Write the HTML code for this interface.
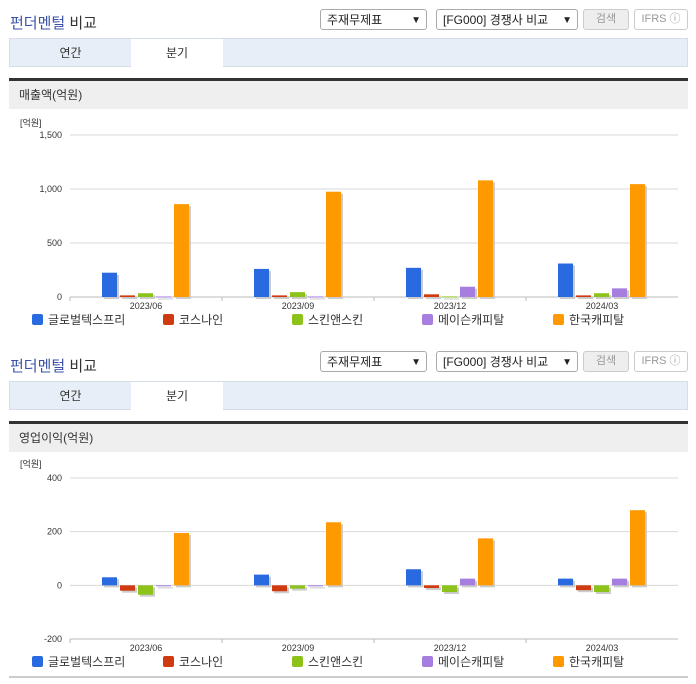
<!DOCTYPE html>
<html><head><meta charset="utf-8">
<style>
body{margin:0;width:696px;height:684px;background:#fff;font-family:"Liberation Sans","Noto Sans CJK KR",sans-serif;position:relative;overflow:hidden}
.abs{position:absolute}
.title{font-size:15px;color:#333;font-weight:normal}
.title b{color:#3a52a8;font-weight:normal}
.sel{height:21px;border:1px solid #aaa;border-radius:3px;font-size:12px;line-height:21px;padding-left:6px;box-sizing:border-box;color:#222;background:#fff}
.sel span{position:absolute;right:5px;font-size:10px}
.btn{height:21px;border:1px solid #ccc;border-radius:3px;font-size:11px;line-height:19px;text-align:center;box-sizing:border-box;color:#999}
.tabs{left:9px;width:679px;height:29px;background:#e8eef7;border:1px solid #d5dde8;box-sizing:border-box}
.tab{top:0;height:28px;font-size:12px;line-height:28px;text-align:center;color:#333}
.hdr{left:9px;width:679px;height:31px;background:#efefef;border-top:3px solid #333;font-size:12px;line-height:28px;padding-left:10px;box-sizing:border-box;color:#333}
svg text{font-family:"Liberation Sans","Noto Sans CJK KR",sans-serif}
</style></head><body>
<div>
<div class="abs title" style="left:10px;top:12px"><b>펀더멘털</b> 비교</div>
<div class="abs sel" style="left:320px;top:9px;width:107px">주재무제표<span>▼</span></div>
<div class="abs sel" style="left:436px;top:9px;width:142px">[FG000] 경쟁사 비교<span>▼</span></div>
<div class="abs btn" style="left:583px;top:9px;width:46px;background:#eee">검색</div>
<div class="abs btn" style="left:634px;top:9px;width:54px">IFRS ⓘ</div>
<div class="abs tabs" style="top:38px">
<div class="abs tab" style="left:0;width:121px">연간</div>
<div class="abs tab" style="left:121px;width:92px;background:#fff;height:29px">분기</div></div>
<div class="abs hdr" style="top:78px">매출액(억원)</div>
</div>
<div>
<div class="abs title" style="left:10px;top:355px"><b>펀더멘털</b> 비교</div>
<div class="abs sel" style="left:320px;top:351px;width:107px">주재무제표<span>▼</span></div>
<div class="abs sel" style="left:436px;top:351px;width:142px">[FG000] 경쟁사 비교<span>▼</span></div>
<div class="abs btn" style="left:583px;top:351px;width:46px;background:#eee">검색</div>
<div class="abs btn" style="left:634px;top:351px;width:54px">IFRS ⓘ</div>
<div class="abs tabs" style="top:381px">
<div class="abs tab" style="left:0;width:121px">연간</div>
<div class="abs tab" style="left:121px;width:92px;background:#fff;height:29px">분기</div></div>
<div class="abs hdr" style="top:421px">영업이익(억원)</div>
<div class="abs" style="left:9px;top:676px;width:679px;height:2px;background:#ccc"></div>
</div>
<svg class="abs" style="left:0;top:0" width="696" height="684" id="svg"></svg>
<script>
const categories=["2023/06","2023/09","2023/12","2024/03"];
const seriesNames=["글로벌텍스프리","코스나인","스킨앤스킨","메이슨캐피탈","한국캐피탈"];
const colors=["#2a6ae0","#d03a10","#8cc21a","#a57ee0","#ff9900"];
const salesBlue=[225,260,270,310];
const salesRed=[15,15,25,15];
const salesGreen=[35,45,5,35];
const salesPurple=[5,5,95,80];
const salesOrange=[860,975,1080,1045];
const salesTicks=[0,500,1000,1500];
const salesTickLabels=["0","500","1,000","1,500"];
const opBlue=[30,40,60,25];
const opRed=[-20,-22,-10,-18];
const opGreen=[-35,-12,-25,-25];
const opPurple=[-3,0,25,25];
const opOrange=[195,235,175,280];
const opTicks=[-200,0,200,400];
const opTickLabels=["-200","0","200","400"];
const NS="http://www.w3.org/2000/svg";
const svg=document.getElementById('svg');
function mk(t,a,p){const e=document.createElementNS(NS,t);for(const k in a)e.setAttribute(k,a[k]);(p||svg).appendChild(e);return e;}
function chart(name,series,ticks,labels,min,max,top,bottom,unitY,legendY){
  const g=mk('g',{});
  
  
  const x0=70,x1=678,cw=(x1-x0)/categories.length;
  const y=v=>bottom-(v-min)/(max-min)*(bottom-top);
  const u=mk('text',{x:20,y:unitY,'font-size':9,fill:'#333'},g);u.textContent='[억원]';
  
  
  ticks.forEach((t,i)=>{
    const l=mk('line',{x1:x0,x2:x1,y1:y(t),y2:y(t),stroke:'#d8d8d8'},g);
    
    
    const tx=mk('text',{x:62,y:y(t)+3,'font-size':9,fill:'#333','text-anchor':'end'},g);tx.textContent=labels[i];
    
    
  });
  mk('line',{x1:x0,x2:x1,y1:bottom,y2:bottom,stroke:'#bbb'},g);
  categories.forEach((c,i)=>{
    const cx=x0+cw*i;
    mk('line',{x1:cx,x2:cx,y1:bottom,y2:bottom+4,stroke:'#bbb'},g);
    const tx=mk('text',{x:cx+cw/2,y:bottom+12,'font-size':9,fill:'#333','text-anchor':'middle'},g);tx.textContent=c;
    
    
    series.forEach((s,j)=>{
      const v=s[i],bx=cx+32+j*18,y0=y(0),yv=y(v);
      const ty=Math.min(y0,yv),h=Math.max(Math.abs(y0-yv),1);
      mk('rect',{x:bx+2,y:ty+2,width:15,height:h,fill:'#ccc'},g);
      const r=mk('rect',{x:bx,y:ty,width:15,height:h,fill:colors[j]},g);
      
      
    });
  });
  const lx=[32,163,292,422,553];
  seriesNames.forEach((n,j)=>{
    const r=mk('rect',{x:lx[j],y:legendY-6,width:11,height:11,rx:2,fill:colors[j]},g);
    
    
    const t=mk('text',{x:lx[j]+16,y:legendY+4,'font-size':12,fill:'#333'},g);t.textContent=n;
    
    
  });
}
chart('sales-chart',[salesBlue,salesRed,salesGreen,salesPurple,salesOrange],salesTicks,salesTickLabels,0,1500,135,297,126,320);
chart('op-chart',[opBlue,opRed,opGreen,opPurple,opOrange],opTicks,opTickLabels,-200,400,478,639,467,662);
</script>
</body></html>
